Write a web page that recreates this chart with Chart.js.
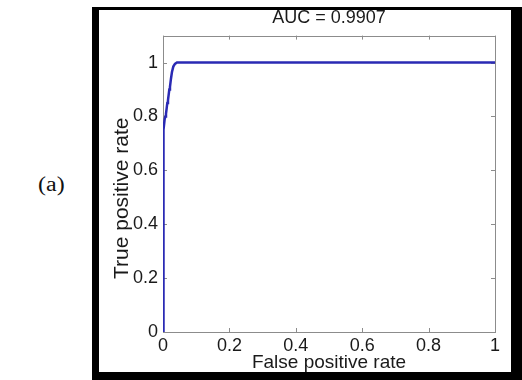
<!DOCTYPE html>
<html><head><meta charset="utf-8">
<script src="https://cdn.jsdelivr.net/npm/chart.js@4"></script>
<style>
html,body{margin:0;padding:0;background:#fff;}
#wrap{position:relative;width:522px;height:380px;overflow:hidden;}
#frame{position:absolute;left:92px;top:7px;width:430px;height:373px;background:#000;}
#inner{position:absolute;left:99px;top:10px;width:412px;height:362px;background:#fff;}
#lab{position:absolute;left:38px;top:174px;font-family:"Liberation Serif","Times New Roman",serif;font-size:20px;color:#111;line-height:20px;transform:scaleX(1.2);transform-origin:0 0;}
canvas{position:absolute;left:0;top:0;}
</style></head><body>
<div id="wrap"><div id="frame"></div><div id="inner"></div><div id="lab">(a)</div><canvas id="c" width="522" height="380"></canvas></div>
<script>
const fpr = [0, 0, 0.001, 0.002, 0.003, 0.005, 0.007, 0.009, 0.011, 0.013, 0.015, 0.017, 0.019, 0.021, 0.024, 0.027, 0.031, 0.036, 0.042, 0.05, 1];
const tpr = [0, 0.3, 0.55, 0.68, 0.75, 0.79, 0.80, 0.81, 0.83, 0.85, 0.86, 0.88, 0.90, 0.91, 0.94, 0.965, 0.985, 0.995, 1, 1, 1];
const xTicks = [0, 0.2, 0.4, 0.6, 0.8, 1];
const yTicks = [0, 0.2, 0.4, 0.6, 0.8, 1];
const titleText = 'AUC = 0.9907';
const xLabel = 'False positive rate';
const yLabel = 'True positive rate';

const FONT = "'Liberation Sans', Arial, Helvetica, sans-serif";
const AXIS_COLOR = '#8c8c8c';
const TEXT_COLOR = '#1a1a1a';

const boxPlugin = {
  id: 'box',
  beforeDatasetsDraw(chart) {
    const {ctx, chartArea: a, scales} = chart;
    ctx.save();
    ctx.strokeStyle = AXIS_COLOR;
    ctx.lineWidth = 1;
    ctx.strokeRect(Math.round(a.left) + 0.5, Math.round(a.top) + 0.5, Math.round(a.right - a.left), Math.round(a.bottom - a.top));
    const tl = 4;
    ctx.beginPath();
    xTicks.forEach(v => {
      const x = Math.round(scales.x.getPixelForValue(v)) + 0.5;
      ctx.moveTo(x, a.bottom); ctx.lineTo(x, a.bottom - tl);
      ctx.moveTo(x, a.top); ctx.lineTo(x, a.top + tl);
    });
    yTicks.forEach(v => {
      const y = Math.round(scales.y.getPixelForValue(v)) + 0.5;
      ctx.moveTo(a.left, y); ctx.lineTo(a.left + tl, y);
      ctx.moveTo(a.right, y); ctx.lineTo(a.right - tl, y);
    });
    ctx.stroke();
    ctx.restore();
  },
  afterDraw(chart) {
    // y-axis title, placed against the y scale
    const {ctx, scales} = chart;
    const cy = scales.y.getPixelForValue(0.5) + 1;
    ctx.save();
    ctx.translate(122, cy);
    ctx.rotate(-Math.PI / 2);
    ctx.font = "21px " + FONT;
    ctx.fillStyle = TEXT_COLOR;
    ctx.textAlign = 'center';
    ctx.textBaseline = 'middle';
    ctx.fillText(yLabel, 0, 0);
    ctx.restore();
  }
};

const fmt = v => String(Math.round(v * 10) / 10);

new Chart(document.getElementById('c'), {
  type: 'scatter',
  data: {
    datasets: [{
      data: fpr.map((x, i) => ({x: x, y: tpr[i]})),
      showLine: true,
      borderColor: '#2a2ab4',
      borderWidth: 2.5,
      pointRadius: 0,
      fill: false,
      tension: 0
    }]
  },
  options: {
    responsive: false,
    animation: false,
    devicePixelRatio: 1,
    layout: {padding: {left: 0, right: 27, top: 0, bottom: 0}},
    plugins: {
      legend: {display: false},
      tooltip: {enabled: false},
      title: {
        display: true,
        fullSize: false,
        text: titleText,
        color: TEXT_COLOR,
        font: {family: FONT, size: 18, weight: 'normal', lineHeight: 1.2},
        padding: {top: 7, bottom: 7}
      }
    },
    scales: {
      x: {
        type: 'linear', min: 0, max: 1,
        afterBuildTicks: s => { s.ticks = xTicks.map(v => ({value: v})); },
        afterFit: s => { s.height = 48; },
        grid: {display: false, drawTicks: false},
        border: {display: false},
        ticks: {color: TEXT_COLOR, font: {family: FONT, size: 18}, padding: 3, maxRotation: 0, callback: v => fmt(v)},
        title: {display: true, text: xLabel, color: TEXT_COLOR, font: {family: FONT, size: 19, lineHeight: 1.2}, padding: {top: 0, bottom: 6}}
      },
      y: {
        type: 'linear', min: 0, max: 1.1,
        afterBuildTicks: s => { s.ticks = yTicks.map(v => ({value: v})); },
        afterFit: s => { s.width = 163; },
        grid: {display: false, drawTicks: false},
        border: {display: false},
        ticks: {color: TEXT_COLOR, font: {family: FONT, size: 18}, padding: 5, callback: v => fmt(v)},
        title: {display: false}
      }
    }
  },
  plugins: [boxPlugin]
});
</script>
</body></html>
